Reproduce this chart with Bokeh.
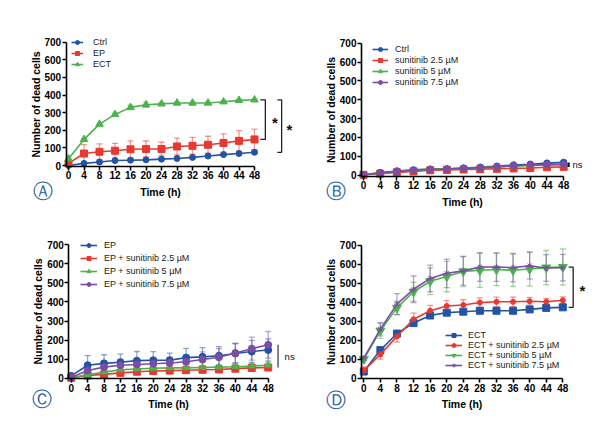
from bokeh.plotting import figure
from bokeh.layouts import column, row
from bokeh.models import (ColumnDataSource, Whisker, TeeHead, FixedTicker, Legend, Label,
                          LinearAxis, Range1d)
from bokeh.embed import file_html
from bokeh.resources import INLINE
from bokeh.core.properties import value

# ---------------- data ----------------
time_h = [0, 4, 8, 12, 16, 20, 24, 28, 32, 36, 40, 44, 48]
y_ticks = [0, 100, 200, 300, 400, 500, 600, 700]

# Panel A
a_labels = ["Ctrl", "EP", "ECT"]
a_ctrl = [0, 12, 20, 28, 30, 32, 36, 40, 46, 54, 62, 68, 75]
a_ctrl_err = [2, 3, 3, 4, 4, 4, 4, 4, 5, 5, 5, 5, 6]
a_ep = [12, 68, 78, 84, 92, 94, 94, 108, 112, 118, 128, 140, 148]
a_ep_err = [5, 50, 45, 42, 48, 45, 38, 48, 48, 48, 52, 58, 58]
a_ect = [38, 148, 235, 290, 330, 345, 350, 355, 355, 355, 362, 370, 373]
a_ect_err = [5, 5, 6, 6, 12, 15, 8, 5, 5, 5, 5, 5, 5]

# Panel B
b_labels = ["Ctrl", "sunitinib 2.5 µM", "sunitinib 5 µM", "sunitinib 7.5 µM"]
b_ctrl = [2, 14, 22, 28, 32, 34, 38, 42, 48, 54, 58, 64, 68]
b_s25 = [2, 8, 15, 20, 26, 28, 30, 32, 34, 36, 38, 42, 44]
b_s5 = [2, 10, 18, 24, 30, 32, 36, 40, 44, 48, 52, 54, 56]
b_s75 = [2, 12, 20, 26, 30, 32, 36, 40, 44, 50, 54, 56, 58]
b_err = [2, 3, 3, 3, 4, 4, 4, 4, 5, 5, 5, 5, 5]

# Panel C
c_labels = ["EP", "EP + sunitinib 2.5 µM", "EP + sunitinib 5 µM", "EP + sunitinib 7.5 µM"]
c_ep = [12, 68, 78, 84, 92, 94, 94, 108, 112, 118, 130, 140, 148]
c_ep_err = [5, 50, 45, 42, 48, 45, 38, 48, 48, 48, 52, 58, 58]
c_s25 = [2, 14, 20, 28, 34, 38, 40, 42, 44, 46, 50, 54, 56]
c_s25_err = [2, 5, 6, 7, 8, 8, 8, 8, 8, 8, 9, 10, 10]
c_s5 = [2, 18, 32, 44, 48, 52, 54, 54, 56, 58, 60, 64, 68]
c_s5_err = [2, 6, 8, 9, 10, 10, 10, 10, 10, 10, 12, 14, 16]
c_s75 = [4, 40, 58, 68, 72, 76, 80, 86, 98, 110, 132, 155, 175]
c_s75_err = [5, 20, 25, 30, 30, 30, 30, 35, 40, 45, 50, 60, 70]

# Panel D
d_labels = ["ECT", "ECT + sunitinib 2.5 µM", "ECT + sunitinib 5 µM", "ECT + sunitinib 7.5 µM"]
d_ect = [35, 148, 235, 290, 330, 345, 350, 355, 355, 355, 362, 370, 373]
d_ect_err = [5, 6, 8, 8, 10, 10, 8, 6, 6, 6, 6, 6, 6]
d_s25 = [40, 125, 220, 310, 355, 380, 385, 398, 402, 402, 405, 402, 410]
d_s25_err = [20, 25, 30, 32, 28, 28, 28, 25, 25, 25, 20, 18, 18]
d_s5 = [100, 250, 370, 455, 510, 535, 562, 568, 572, 568, 575, 582, 585]
d_s5_err = [10, 40, 35, 50, 70, 80, 80, 90, 85, 85, 90, 90, 95]
d_s75 = [105, 258, 390, 468, 525, 552, 565, 585, 585, 582, 592, 580, 582]
d_s75_err = [10, 35, 55, 70, 70, 75, 75, 75, 75, 75, 70, 70, 70]

BLUE = "#2353a5"
RED = "#e8382f"
GREEN = "#4cb24e"
PURPLE = "#7a4ea3"
FONT = "Liberation Sans"


def make_panel(W, H, x0px, xs, y0px, ys_, ax_x, ax_y, series, legend_loc,
               legend_glyph_w, legend_standoff, legend_spacing, letter, letter_pos):
    # the frame covers the whole figure; axes are placed at fixed data locations
    x_range = Range1d(-x0px / xs, (W - x0px) / xs)
    y_range = Range1d((y0px - H) / ys_, y0px / ys_)
    p = figure(width=W, height=H, x_range=x_range, y_range=y_range,
               output_backend="svg", toolbar_location=None,
               x_axis_location=None, y_axis_location=None,
               min_border=0, min_border_left=0, min_border_right=0,
               min_border_top=0, min_border_bottom=0)
    p.outline_line_color = None
    p.xgrid.visible = False
    p.ygrid.visible = False
    xax = LinearAxis(fixed_location=ax_y, ticker=FixedTicker(ticks=time_h),
                     bounds=(ax_x, 48), axis_label="Time (h)")
    yax = LinearAxis(fixed_location=ax_x, ticker=FixedTicker(ticks=y_ticks),
                     bounds=(ax_y, 700), axis_label="Number of dead cells")
    for ax in (xax, yax):
        ax.axis_line_width = 1.6
        ax.axis_line_color = "black"
        ax.major_tick_line_width = 1.6
        ax.major_tick_line_color = "black"
        ax.major_tick_out = 4
        ax.major_tick_in = 0
        ax.minor_tick_line_color = None
        ax.major_label_text_font = FONT
        ax.major_label_text_font_style = "bold"
        ax.major_label_text_font_size = "10px"
        ax.major_label_text_color = "black"
        ax.axis_label_text_font = FONT
        ax.axis_label_text_font_style = "bold"
        ax.axis_label_text_font_size = "10.5px"
        ax.axis_label_text_color = "black"
    xax.major_label_standoff = 1
    xax.axis_label_standoff = 3
    yax.major_label_standoff = 1
    yax.axis_label_standoff = 0
    p.add_layout(xax, "below")
    p.add_layout(yax, "left")

    items = []
    for s in series:
        ys, err, color = s["y"], s["err"], s["color"]
        src = ColumnDataSource(dict(
            x=time_h, y=ys,
            upper=[v + e for v, e in zip(ys, err)],
            lower=[v - e for v, e in zip(ys, err)]))
        w = Whisker(base="x", upper="upper", lower="lower", source=src,
                    line_color=color, line_alpha=0.5, line_width=1.3,
                    upper_head=TeeHead(size=6, line_color=color, line_alpha=0.5, line_width=1.3),
                    lower_head=TeeHead(size=6, line_color=color, line_alpha=0.5, line_width=1.3))
        p.add_layout(w)
        ln = p.line("x", "y", source=src, line_color=color, line_width=1.6)
        sc = p.scatter("x", "y", source=src, marker=s["marker"], size=s["size"],
                       fill_color=color, line_color=color, line_width=1)
        items.append((s["label"], [ln, sc]))

    leg = Legend(items=items, location=legend_loc, padding=0, margin=0,
                 spacing=legend_spacing, glyph_width=legend_glyph_w, glyph_height=10,
                 label_height=10, label_standoff=legend_standoff,
                 label_text_font=FONT, label_text_font_size="9px",
                 label_text_color="#222222", background_fill_alpha=0,
                 border_line_color=None)
    p.add_layout(leg, "center")

    lab = Label(x=letter_pos[0], y=letter_pos[1], x_units="screen", y_units="screen",
                text=letter, text_font="DejaVu Sans", text_font_size="20px",
                text_color="#2b5fa8", text_align="center", text_baseline="middle")
    p.add_layout(lab)
    return p


def bracket(p, x_v, x_t, y_top, y_bot, width=1.3, color="#222222"):
    p.line([x_t, x_v, x_v, x_t], [y_top, y_top, y_bot, y_bot],
           line_color=color, line_width=width)


def star(p, x, y, text="*", bold=True, size="15px", y_off=3, align="center"):
    p.text([x], [y], text=[text], text_font=value(FONT),
           text_font_style="bold" if bold else "normal", text_font_size=size,
           text_align=align, text_baseline="middle", y_offset=y_off, text_color="#111111")


# ---------------- panel A ----------------
pA = make_panel(300, 210, 68, 3.875, 165, 0.1761, -0.6, -4,
                [dict(label=a_labels[0], y=a_ctrl, err=a_ctrl_err, color=BLUE, marker="circle", size=6),
                 dict(label=a_labels[1], y=a_ep, err=a_ep_err, color=RED, marker="square", size=7),
                 dict(label=a_labels[2], y=a_ect, err=a_ect_err, color=GREEN, marker="triangle", size=7.5)],
                (71, 141), 12, 10, 1, "Ⓐ", (42, 20))
bracket(pA, 50.8, 49.5, a_ect[-1], a_ep[-1])
star(pA, 53.3, (a_ect[-1] + a_ep[-1]) / 2)
bracket(pA, 55.0, 53.9, a_ect[-1], a_ctrl[-1])
star(pA, 57.0, (a_ect[-1] + a_ctrl[-1]) / 2)

# ---------------- panel B ----------------
pB = make_panel(312, 210, 63, 4.17, 174.7, 0.1886, -0.48, -5.3,
                [dict(label=b_labels[0], y=b_ctrl, err=b_err, color=BLUE, marker="circle", size=6.5),
                 dict(label=b_labels[1], y=b_s25, err=b_err, color=RED, marker="square", size=7),
                 dict(label=b_labels[2], y=b_s5, err=b_err, color=GREEN, marker="triangle", size=6.5),
                 dict(label=b_labels[3], y=b_s75, err=b_err, color=PURPLE, marker="circle", size=6.5)],
                (72, 123), 16, 7, 1, "Ⓑ", (35, 20))
b_fin = [b_ctrl[-1], b_s25[-1], b_s5[-1], b_s75[-1]]
pB.line([49.2, 49.2], [max(b_fin), min(b_fin)], line_color="#111111", line_width=2.2)
star(pB, 50.1, (max(b_fin) + min(b_fin)) / 2, text="ns", bold=False, size="9.5px", y_off=0, align="left")

# ---------------- panel C ----------------
pC = make_panel(300, 210, 70.7, 4.104, 167.7, 0.1906, -0.58, -3.1,
                [dict(label=c_labels[0], y=c_ep, err=c_ep_err, color=BLUE, marker="circle", size=7),
                 dict(label=c_labels[1], y=c_s25, err=c_s25_err, color=RED, marker="square", size=7),
                 dict(label=c_labels[2], y=c_s5, err=c_s5_err, color=GREEN, marker="triangle", size=6.5),
                 dict(label=c_labels[3], y=c_s75, err=c_s75_err, color=PURPLE, marker="circle", size=7)],
                (80, 131), 17, 7, 3, "Ⓒ", (41, 22))
c_fin = [c_ep[-1], c_s25[-1], c_s5[-1], c_s75[-1]]
pC.line([50.4, 50.4], [max(c_fin), min(c_fin)], line_color="#333333", line_width=1.2)
star(pC, 52.0, (max(c_fin) + min(c_fin)) / 2, text="ns", bold=False, size="9.5px", y_off=0, align="left")

# ---------------- panel D ----------------
pD = make_panel(312, 210, 63.3, 4.146, 167.7, 0.19, -0.55, -3.2,
                [dict(label=d_labels[0], y=d_ect, err=d_ect_err, color=BLUE, marker="square", size=7),
                 dict(label=d_labels[1], y=d_s25, err=d_s25_err, color=RED, marker="circle", size=5),
                 dict(label=d_labels[2], y=d_s5, err=d_s5_err, color=GREEN, marker="inverted_triangle", size=9),
                 dict(label=d_labels[3], y=d_s75, err=d_s75_err, color=PURPLE, marker="asterisk", size=6)],
                (145, 50), 17, 6, 0, "Ⓓ", (35, 21))
d_top = max(d_s5[-1], d_s75[-1])
bracket(pD, 50.5, 49.4, d_top, d_ect[-1])
star(pD, 52.7, (d_top + d_ect[-1]) / 2)

layout = column(row(pA, pB), row(pC, pD))
open("out.html", "w").write(file_html(layout, INLINE))
